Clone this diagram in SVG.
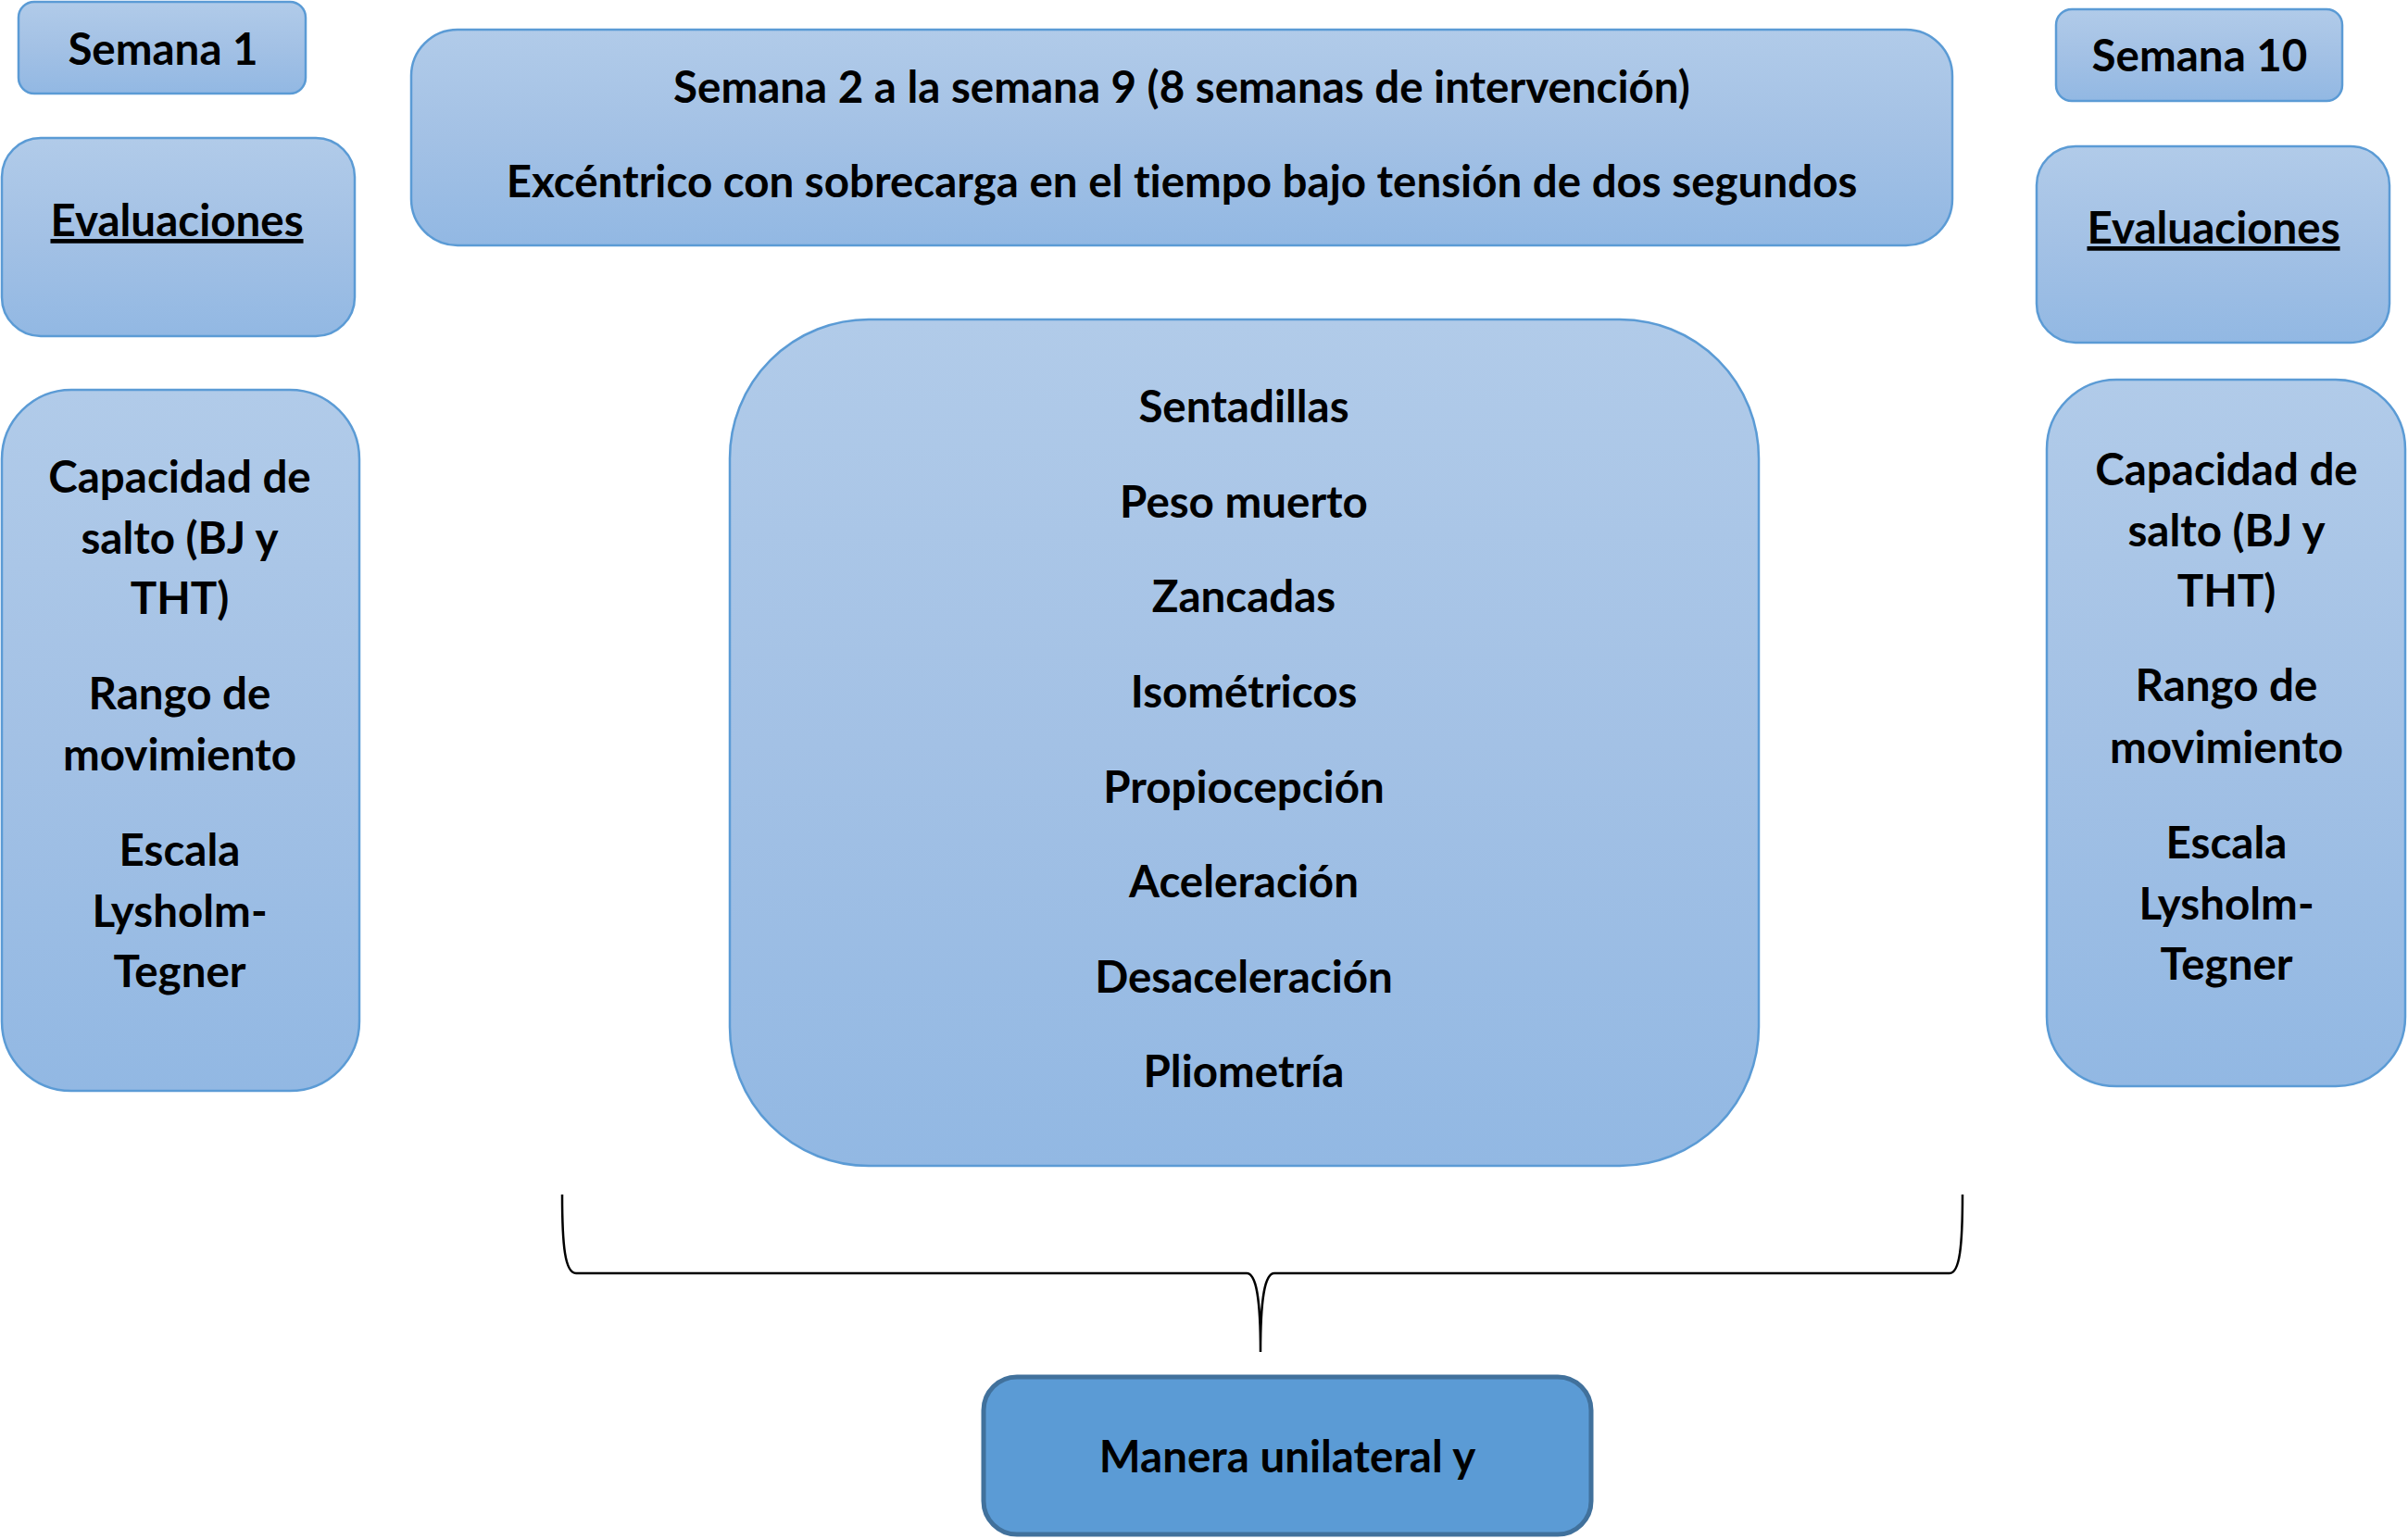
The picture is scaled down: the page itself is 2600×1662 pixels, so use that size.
<svg xmlns="http://www.w3.org/2000/svg" width="2600" height="1662" viewBox="0 0 2600 1662">
<defs>
<linearGradient id="g" x1="0" y1="0" x2="0" y2="1">
<stop offset="0" stop-color="#B1CBE9"/>
<stop offset="0.5" stop-color="#A3C1E5"/>
<stop offset="1" stop-color="#92B8E3"/>
</linearGradient>
</defs>
<style>
.box{fill:url(#g);stroke:#5B9BD5;stroke-width:2.5}
.dark{fill:#5B9BD5;stroke:#41719C;stroke-width:5}
text{font-family:Lato,"Liberation Sans",sans-serif;font-weight:bold;font-size:47.5px;fill:#000;text-anchor:middle;font-variant-ligatures:none}
.u{text-decoration:underline}
.brace{fill:none;stroke:#000;stroke-width:2.5}
</style>
<rect width="2600" height="1662" fill="#fff"/>
<g id="semana1">
<rect class="box" x="20" y="2" width="310" height="99" rx="17"/>
<text x="176" y="70">Semana 1</text>
</g>
<g id="intervencion">
<rect class="box" x="444" y="32" width="1664" height="233" rx="50"/>
<text x="1276" y="111">Semana 2 a la semana 9 (8 semanas de intervención)</text>
<text x="1276" y="213">Excéntrico con sobrecarga en el tiempo bajo tensión de dos segundos</text>
</g>
<g id="semana10">
<rect class="box" x="2220" y="10" width="309" height="99" rx="17"/>
<text x="2375" y="77">Semana 10</text>
</g>
<g id="evaluaciones1">
<rect class="box" x="2" y="149" width="381" height="214" rx="42"/>
<text class="u" x="191" y="255">Evaluaciones</text>
</g>
<g id="evaluaciones10">
<rect class="box" x="2199" y="158" width="381" height="212" rx="42"/>
<text class="u" x="2390" y="263">Evaluaciones</text>
</g>
<g id="pruebas1">
<rect class="box" x="2" y="421" width="386" height="757" rx="75"/>
<text x="194" y="532">Capacidad de</text>
<text x="194" y="598">salto (BJ y</text>
<text x="194" y="663">THT)</text>
<text x="194" y="766">Rango de</text>
<text x="194" y="832">movimiento</text>
<text x="194" y="935">Escala</text>
<text x="194" y="1001">Lysholm-</text>
<text x="194" y="1066">Tegner</text>
</g>
<g id="pruebas10">
<rect class="box" x="2210" y="410" width="387" height="763" rx="75"/>
<text x="2404" y="524">Capacidad de</text>
<text x="2404" y="590">salto (BJ y</text>
<text x="2404" y="655">THT)</text>
<text x="2404" y="757">Rango de</text>
<text x="2404" y="824">movimiento</text>
<text x="2404" y="927">Escala</text>
<text x="2404" y="993">Lysholm-</text>
<text x="2404" y="1058">Tegner</text>
</g>
<g id="ejercicios">
<rect class="box" x="788" y="345" width="1111" height="914" rx="150"/>
<text x="1343" y="456">Sentadillas</text>
<text x="1343" y="559">Peso muerto</text>
<text x="1343" y="661">Zancadas</text>
<text x="1343" y="764">Isométricos</text>
<text x="1343" y="867">Propiocepción</text>
<text x="1343" y="969">Aceleración</text>
<text x="1343" y="1072">Desaceleración</text>
<text x="1343" y="1174">Pliometría</text>
</g>
<g id="connectors">
<path class="brace" d="M607,1290 C607,1345 610,1375 622,1375 L1346,1375 C1356,1375 1361,1400 1361,1460 C1361,1400 1366,1375 1376,1375 L2105,1375 C2116,1375 2119,1345 2119,1290"/>
</g>
<g id="manera">
<rect class="dark" x="1062" y="1487" width="656" height="170" rx="36"/>
<text x="1390" y="1590">Manera unilateral y</text>
</g>
</svg>
